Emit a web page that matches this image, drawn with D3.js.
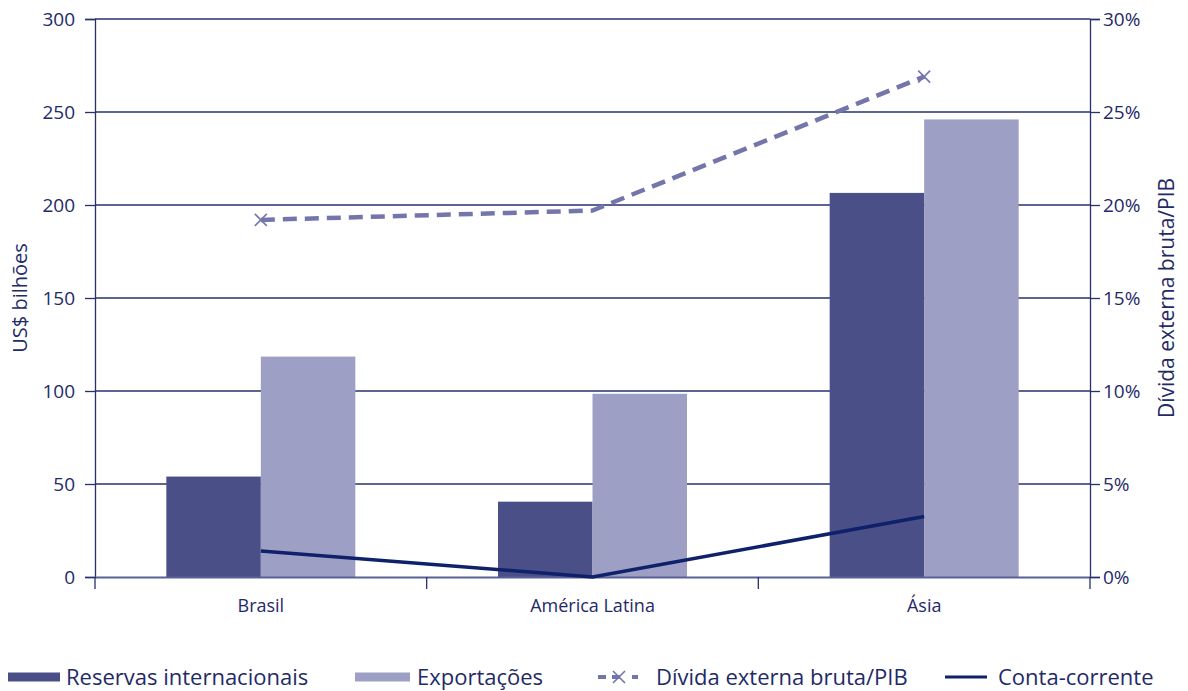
<!DOCTYPE html>
<html><head><meta charset="utf-8">
<script src="https://cdn.jsdelivr.net/npm/d3@7"></script>
<style>body{margin:0;background:#fff}svg{display:block}text{font-family:"Open Sans","Noto Sans",sans-serif;fill:#1f2a68}</style>
</head><body><svg id="c" width="1188" height="691"></svg>
<script>
const categories = ["Brasil", "América Latina", "Ásia"];
const reservas = [54, 40.5, 206.5];
const exportacoes = [118.5, 98.5, 246];
const divida = [19.2, 19.7, 26.9];
const dividaMarker = [true, false, true];
const conta = [1.4, 0.0, 3.25];
const leftTicks = [0, 50, 100, 150, 200, 250, 300];
const rightTicks = [0, 5, 10, 15, 20, 25, 30];
const seriesNames = ["Reservas internacionais", "Exportações", "Dívida externa bruta/PIB", "Conta-corrente"];

const svg = d3.select("#c");
const L = 95, R = 1090, T = 19, B = 577;
const cDark = "#4a5087", cLight = "#9d9fc4", cDash = "#7476ab", cLine = "#0f216b", cAxis = "#26306e";
const FF = "'Open Sans','Noto Sans',sans-serif";

const x = d3.scaleBand().domain(categories).range([L, R]).paddingInner(0).paddingOuter(0);
const xs = d3.scaleBand().domain([0, 1]).range([0, 189]);
const yL = d3.scaleLinear().domain([0, 300]).range([B, T]);
const yR = d3.scaleLinear().domain([0, 30]).range([B, T]);

// grid
svg.append("g").selectAll("line").data(leftTicks.filter(d => d > 0)).join("line")
  .attr("x1", L).attr("x2", R).attr("y1", d => yL(d)).attr("y2", d => yL(d))
  .attr("stroke", cAxis).attr("stroke-width", 1.3);

// left axis
const ga = svg.append("g").attr("transform", `translate(${L},0)`)
  .call(d3.axisLeft(yL).tickValues(leftTicks).tickSize(10).tickPadding(10));
ga.select(".domain").attr("stroke", cAxis).attr("stroke-width", 1.3);
ga.selectAll(".tick line").attr("stroke", cAxis).attr("stroke-width", 1.3);
ga.selectAll("text").attr("fill", "#1f2a68").style("font-size", "19px").style("font-family", FF);

// right axis
const gr = svg.append("g").attr("transform", `translate(${R},0)`)
  .call(d3.axisRight(yR).tickValues(rightTicks).tickSize(10).tickPadding(3).tickFormat(d => d + "%"));
gr.select(".domain").attr("stroke", cAxis).attr("stroke-width", 1.3);
gr.selectAll(".tick line").attr("stroke", cAxis).attr("stroke-width", 1.3);
gr.selectAll("text").attr("fill", "#1f2a68").style("font-size", "19px").style("font-family", FF);

// bars
const bars = svg.append("g");
categories.forEach((c, i) => {
  const x0 = x(c) + (x.bandwidth() - 189) / 2;
  bars.append("rect").attr("x", x0 + xs(0)).attr("width", xs.bandwidth())
    .attr("y", yL(reservas[i])).attr("height", B - yL(reservas[i])).attr("fill", cDark);
  bars.append("rect").attr("x", x0 + xs(1)).attr("width", xs.bandwidth())
    .attr("y", yL(exportacoes[i])).attr("height", B - yL(exportacoes[i])).attr("fill", cLight);
});

// bottom axis
const gb = svg.append("g").attr("transform", `translate(0,${B})`)
  .call(d3.axisBottom(x).tickSize(0).tickPadding(22));
gb.select(".domain").attr("stroke", "#5a6098").attr("stroke-width", 2);
gb.selectAll("text").attr("fill", "#1f2a68").style("font-size", "18px").style("font-family", FF);
svg.append("g").selectAll("line").data(categories.slice(1)).join("line")
  .attr("x1", d => x(d)).attr("x2", d => x(d)).attr("y1", B).attr("y2", B + 12)
  .attr("stroke", cAxis).attr("stroke-width", 1.3);
[L, R].forEach(v => svg.append("line").attr("x1", v).attr("x2", v).attr("y1", B).attr("y2", B + 12).attr("stroke", cAxis).attr("stroke-width", 1.3));

const cx = (c) => x(c) + x.bandwidth() / 2;

// conta-corrente line
svg.append("path").datum(conta)
  .attr("d", d3.line().x((d, i) => cx(categories[i])).y(d => yR(d)))
  .attr("fill", "none").attr("stroke", cLine).attr("stroke-width", 3.5);

// divida dashed line
svg.append("path").datum(divida)
  .attr("d", d3.line().x((d, i) => cx(categories[i])).y(d => yR(d)))
  .attr("fill", "none").attr("stroke", cDash).attr("stroke-width", 4.5).attr("stroke-dasharray", "14,8");
const xm = svg.append("g");
divida.forEach((d, i) => {
  if (!dividaMarker[i]) return;
  const px = cx(categories[i]), py = yR(d), s = 6;
  xm.append("path").attr("d", `M${px - s},${py - s}L${px + s},${py + s}M${px - s},${py + s}L${px + s},${py - s}`)
    .attr("stroke", cDash).attr("stroke-width", 1.6).attr("fill", "none");
});

// axis titles
svg.append("text").attr("transform", `translate(27,${(T + B) / 2}) rotate(-90)`)
  .attr("text-anchor", "middle").style("font-size", "20px").text("US$ bilhões");
svg.append("text").attr("transform", `translate(1174,${(T + B) / 2}) rotate(-90)`)
  .attr("text-anchor", "middle").style("font-size", "21px").text("Dívida externa bruta/PIB");

// legend
const ly = 677;
const lg = svg.append("g");
lg.append("rect").attr("x", 8).attr("y", ly - 4.5).attr("width", 52).attr("height", 9).attr("fill", cDark);
lg.append("text").attr("x", 66).attr("y", ly + 8).style("font-size", "22px").text(seriesNames[0]);
lg.append("rect").attr("x", 355).attr("y", ly - 4.5).attr("width", 55).attr("height", 9).attr("fill", cLight);
lg.append("text").attr("x", 417).attr("y", ly + 8).style("font-size", "22px").text(seriesNames[1]);
lg.append("line").attr("x1", 598).attr("x2", 644).attr("y1", ly).attr("y2", ly)
  .attr("stroke", cDash).attr("stroke-width", 4).attr("stroke-dasharray", "8,6,8,12,6");
lg.append("path").attr("d", `M${613},${ly - 6}L${625},${ly + 6}M${613},${ly + 6}L${625},${ly - 6}`)
  .attr("stroke", cDash).attr("stroke-width", 1.6);
lg.append("text").attr("x", 656).attr("y", ly + 8).style("font-size", "22px").text(seriesNames[2]);
lg.append("line").attr("x1", 945).attr("x2", 987).attr("y1", ly).attr("y2", ly).attr("stroke", cLine).attr("stroke-width", 3);
lg.append("text").attr("x", 998).attr("y", ly + 8).style("font-size", "22px").text(seriesNames[3]);
</script></body></html>
